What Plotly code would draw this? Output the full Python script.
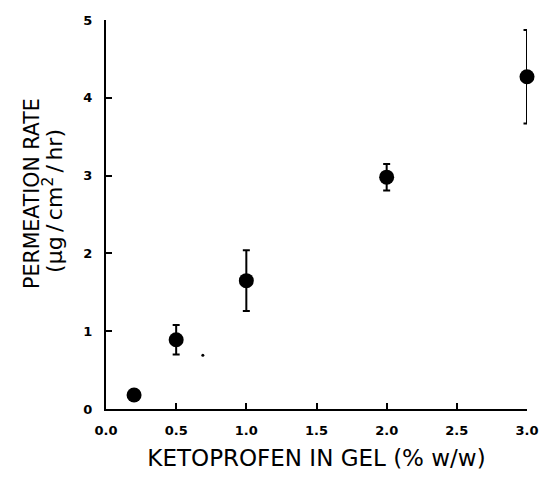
import plotly.graph_objects as go

ketoprofen = [0.2, 0.5, 1.0, 2.0, 3.0]
rate = [0.18, 0.89, 1.65, 2.98, 4.27]
err = [0.0, 0.19, 0.39, 0.17, 0.60]

# stray speck visible in the scanned figure
speck_x = [0.69]
speck_y = [0.69]

x_ticks = [0.0, 0.5, 1.0, 1.5, 2.0, 2.5, 3.0]
x_ticklabels = ["0.0", "0.5", "1.0", "1.5", "2.0", "2.5", "3.0"]
y_ticks = [0, 1, 2, 3, 4, 5]
y_ticklabels = ["0", "1", "2", "3", "4", "5"]

font_fam = "DejaVu Sans, Liberation Sans, sans-serif"

fig = go.Figure()
fig.add_trace(go.Scatter(
    x=ketoprofen, y=rate, mode="markers",
    marker=dict(color="black", size=15),
    error_y=dict(type="data", array=err, visible=True, color="black",
                 thickness=2, width=3.5),
    showlegend=False, cliponaxis=False,
))
fig.add_trace(go.Scatter(
    x=speck_x, y=speck_y, mode="markers",
    marker=dict(color="black", size=3),
    showlegend=False, cliponaxis=False, hoverinfo="skip",
))

fig.update_layout(
    width=539, height=477,
    margin=dict(l=106, r=12, t=20, b=68),
    paper_bgcolor="white", plot_bgcolor="white",
    font=dict(family=font_fam, color="black"),
    xaxis=dict(
        range=[0, 3.0], tickvals=x_ticks, ticktext=x_ticklabels,
        showgrid=False, zeroline=False, showline=True, linecolor="black",
        linewidth=2, ticks="inside", ticklen=6, tickwidth=1.5, tickcolor="black",
        tickfont=dict(size=13, family="DejaVu Sans", weight="bold"),
        ticklabelstandoff=8, automargin=False,
        title=dict(text="KETOPROFEN IN GEL (% w/w)", font=dict(size=23), standoff=13),
    ),
    yaxis=dict(
        range=[0, 5], tickvals=y_ticks, ticktext=y_ticklabels,
        showgrid=False, zeroline=False, showline=True, linecolor="black",
        linewidth=2, ticks="inside", ticklen=6, tickwidth=1.5, tickcolor="black",
        tickfont=dict(size=13, family="DejaVu Sans", weight="bold"),
        ticklabelstandoff=9, automargin=False,
    ),
    annotations=[
        dict(text="PERMEATION RATE", xref="paper", yref="paper", x=0, y=0.553,
             xanchor="center", yanchor="middle", xshift=-74, textangle=-90,
             showarrow=False, font=dict(size=20.5)),
        dict(text="(μg\u2009/\u2009cm<sup>2</sup>\u2009/\u2009hr)", xref="paper", yref="paper",
             x=0, y=0.535, xanchor="center", yanchor="middle", xshift=-53, textangle=-90,
             showarrow=False, font=dict(size=22)),
    ],
)

fig.write_html("out.html")
